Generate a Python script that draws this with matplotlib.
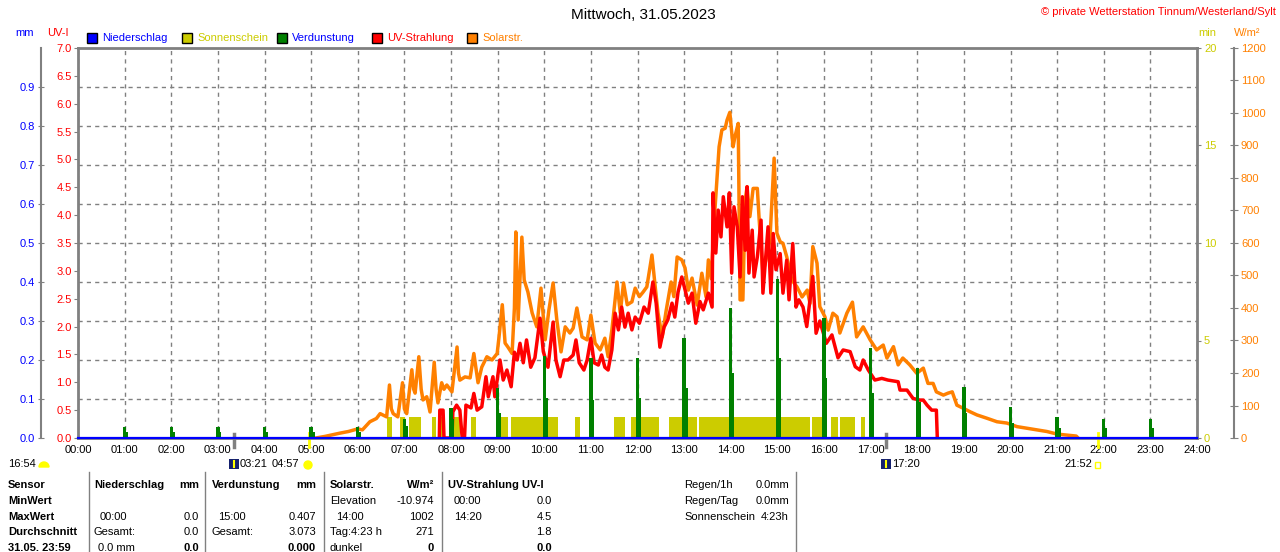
import matplotlib.pyplot as plt
from matplotlib.patches import Rectangle, Wedge, Circle
from matplotlib.lines import Line2D
from matplotlib.ticker import FixedLocator
from matplotlib.transforms import IdentityTransform

plt.rcParams['font.family'] = ['Liberation Sans', 'DejaVu Sans']
plt.rcParams['font.size'] = 8

# ---- data (time in hours) ----
solar_t = [5.10, 5.30, 5.62, 5.80, 6.00, 6.10, 6.26, 6.40, 6.48, 6.62, 6.68, 6.72, 6.76, 6.86,
           6.96, 7.00, 7.05, 7.16, 7.20, 7.23, 7.31, 7.36, 7.40, 7.48, 7.55, 7.64, 7.68, 7.72,
           7.80, 7.85, 7.91, 8.02, 8.13, 8.16, 8.19, 8.30, 8.41, 8.49, 8.58, 8.66, 8.77, 8.88,
           8.99, 9.03, 9.10, 9.16, 9.22, 9.31, 9.36, 9.39, 9.44, 9.52, 9.57, 9.65, 9.74, 9.84,
           9.93, 10.02, 10.10, 10.19, 10.27, 10.36, 10.45, 10.55, 10.62, 10.70, 10.81, 10.92,
           11.00, 11.09, 11.20, 11.30, 11.37, 11.45, 11.56, 11.63, 11.70, 11.78, 11.88, 11.95,
           12.04, 12.12, 12.20, 12.31, 12.38, 12.44, 12.53, 12.61, 12.72, 12.78, 12.85, 12.95,
           13.02, 13.09, 13.17, 13.28, 13.38, 13.47, 13.52, 13.58, 13.66, 13.75, 13.81, 13.88,
           13.92, 13.98, 14.02, 14.05, 14.09, 14.16, 14.20, 14.26, 14.31, 14.35, 14.41, 14.48,
           14.57, 14.61, 14.69, 14.77, 14.84, 14.93, 14.99, 15.06, 15.12, 15.20, 15.31, 15.42,
           15.53, 15.64, 15.70, 15.76, 15.85, 15.91, 16.02, 16.09, 16.19, 16.28, 16.34, 16.49,
           16.61, 16.70, 16.84, 16.99, 17.13, 17.27, 17.35, 17.49, 17.59, 17.69, 17.84, 17.99,
           18.13, 18.23, 18.34, 18.41, 18.56, 18.66, 18.75, 18.85, 18.98, 19.13, 19.28, 19.49,
           19.71, 19.92, 20.14, 20.35, 20.57, 20.78, 21.00, 21.21, 21.41, 21.45]
solar_w = [0, 5, 15, 20, 28, 25, 50, 60, 75, 65, 163, 90, 75, 65,
           170, 90, 75, 210, 150, 138, 250, 150, 117, 127, 80, 233, 150, 108,
           170, 150, 163, 142, 280, 200, 178, 188, 185, 260, 170, 218, 250, 240,
           260, 311, 410, 292, 280, 260, 400, 634, 363, 618, 486, 449, 385, 342,
           461, 302, 394, 477, 363, 265, 342, 323, 338, 400, 311, 302,
           378, 292, 271, 307, 250, 332, 480, 385, 477, 410, 419, 461,
           435, 449, 465, 563, 465, 385, 311, 388, 480, 435, 557, 548,
           523, 455, 492, 409, 507, 434, 548, 490, 701, 896, 948, 953,
           978, 1002, 942, 896, 927, 968, 425, 425, 733, 773, 681, 768,
           768, 671, 507, 558, 609, 861, 630, 604, 599, 558, 486, 465,
           434, 455, 414, 589, 538, 404, 373, 332, 384, 373, 323, 384,
           418, 311, 342, 302, 271, 286, 246, 281, 225, 246, 225, 199,
           215, 168, 168, 142, 132, 138, 142, 101, 92, 81, 71, 61,
           50, 46, 35, 30, 25, 20, 12, 9, 6, 0]

uv_t = [7.75, 7.76, 7.83, 7.85, 8.02, 8.04, 8.12, 8.19, 8.24, 8.29, 8.32, 8.43, 8.49, 8.56,
        8.66, 8.75, 8.80, 8.90, 8.94, 9.05, 9.12, 9.20, 9.29, 9.36, 9.42, 9.48, 9.55, 9.62,
        9.71, 9.80, 9.91, 9.98, 10.08, 10.19, 10.25, 10.34, 10.42, 10.51, 10.62, 10.68, 10.75,
        10.85, 10.92, 11.00, 11.07, 11.16, 11.23, 11.30, 11.37, 11.45, 11.52, 11.59, 11.66,
        11.73, 11.80, 11.88, 11.95, 12.04, 12.14, 12.23, 12.33, 12.40, 12.48, 12.57, 12.65,
        12.74, 12.80, 12.87, 12.95, 13.02, 13.09, 13.17, 13.25, 13.34, 13.41, 13.52, 13.60,
        13.62, 13.68, 13.73, 13.79, 13.84, 13.92, 13.97, 14.02, 14.07, 14.14, 14.20, 14.25,
        14.31, 14.35, 14.39, 14.46, 14.50, 14.57, 14.65, 14.69, 14.76, 14.80, 14.86, 14.91,
        14.97, 15.06, 15.12, 15.20, 15.25, 15.33, 15.40, 15.46, 15.55, 15.63, 15.70, 15.76,
        15.83, 15.91, 15.98, 16.05, 16.17, 16.30, 16.41, 16.56, 16.67, 16.77, 16.84, 16.95,
        17.09, 17.24, 17.37, 17.59, 17.63, 17.78, 17.91, 18.06, 18.13, 18.21, 18.31, 18.41,
        18.43]
uv_i = [0.0, 0.5, 0.5, 0.0, 0.0, 0.47, 0.59, 0.5, 0.0, 0.0, 0.59, 0.54, 0.8, 0.5,
        0.56, 1.1, 0.74, 1.1, 0.74, 1.4, 1.04, 1.22, 0.92, 1.54, 1.4, 1.7, 1.35, 1.76,
        1.27, 1.44, 2.15, 1.55, 1.27, 2.08, 1.4, 1.1, 1.4, 1.4, 1.49, 1.76, 1.35,
        1.22, 1.4, 1.79, 1.35, 1.31, 1.49, 1.27, 1.22, 1.58, 2.24, 1.94, 2.35,
        1.99, 2.24, 1.94, 2.17, 2.06, 2.35, 2.24, 2.8, 2.42, 1.63, 1.99, 2.12,
        2.42, 2.17, 2.62, 2.89, 2.66, 2.42, 2.6, 2.06, 2.45, 2.3, 2.6, 2.35,
        4.4, 3.32, 4.09, 3.61, 4.33, 3.79, 4.4, 2.96, 4.15, 3.79, 2.89, 4.33,
        3.37, 4.51, 2.96, 3.73, 2.89, 3.25, 3.91, 2.6, 3.37, 3.79, 2.6, 3.67,
        3.02, 3.31, 2.6, 3.19, 2.48, 3.49, 2.35, 2.48, 2.35, 2.0, 2.48, 2.9,
        1.88, 2.1, 1.9, 1.7, 1.85, 1.44, 1.58, 1.55, 1.28, 1.22, 1.4, 1.22,
        1.04, 1.07, 1.04, 1.01, 0.86, 0.86, 0.71, 0.68, 0.68, 0.59, 0.5, 0.5,
        0.0]

verd_hour = [1, 2, 3, 4, 5, 6, 7, 8, 9, 10, 11, 12, 13, 14, 15, 16, 17, 18, 19, 20, 21, 22, 23]
verd_peak = [0.028, 0.028, 0.028, 0.028, 0.028, 0.028, 0.05, 0.077, 0.128, 0.21, 0.205, 0.205,
             0.256, 0.333, 0.407, 0.307, 0.23, 0.18, 0.13, 0.08, 0.053, 0.05, 0.05]
verd_step = [0.015, 0.015, 0.015, 0.015, 0.015, 0.015, 0.03, 0.05, 0.064, 0.103, 0.097, 0.103,
             0.128, 0.167, 0.205, 0.154, 0.115, 0.092, 0.064, 0.038, 0.026, 0.025, 0.025]

sun_start = [6.62, 6.91, 7.10, 7.60, 7.76, 8.05, 8.43, 9.04, 9.29, 10.66, 11.50, 11.85, 12.05,
             12.68, 13.32, 15.74, 16.15, 16.34, 16.79]
sun_end = [6.74, 7.02, 7.36, 7.68, 7.87, 8.19, 8.54, 9.23, 10.29, 10.77, 11.73, 11.98, 12.46,
           13.27, 15.71, 15.95, 16.29, 16.66, 16.88]
sun_min = [1.08, 1.08, 1.08, 1.08, 1.08, 1.08, 1.08, 1.08, 1.08, 1.08, 1.08, 1.08, 1.08,
           1.08, 1.08, 1.08, 1.08, 1.08, 1.08]

rain_t = [0, 24]
rain_mm = [0.0, 0.0]

twilight_t = [3.35, 17.33]   # 03:21 / 17:20
sunrise_t = [4.95, 21.87]    # 04:57 / 21:52

hours = list(range(25))
hour_labels = ['%02d:00' % h for h in hours]

W, H = 1280, 552
GRAY = '#808080'
YEL = '#cccc00'


def put(x, y, s, **kw):
    fig.text(x / W, 1 - y / H, s, va='center', **kw)


def pix(x, y):
    return (x, H - y)


fig = plt.figure(figsize=(12.8, 5.52), dpi=100)
ax = fig.add_axes([78 / W, 1 - 438 / H, 1119 / W, 390 / H])
ax_w = ax.twinx()
ax_uv = ax.twinx()
ax_mm = ax.twinx()
for i, a in enumerate([ax, ax_w, ax_uv, ax_mm]):
    a.set_zorder(i + 1)
ax.set_xlim(0, 24)

# sunshine (min) + grid on base axes
ax.bar(sun_start, sun_min, width=[e - s for s, e in zip(sun_start, sun_end)],
       align='edge', color=YEL, linewidth=0)
ax.set_ylim(0, 20)
ax.yaxis.tick_right()
ax.set_yticks([0, 5, 10, 15, 20])
ax.yaxis.set_minor_locator(FixedLocator([2, 4, 6, 8, 10, 12, 14, 16, 18]))
ax.yaxis.remove_overlapping_locs = False
ax.set_xticks(hours)
ax.set_xticklabels(hour_labels)
ax.set_axisbelow(True)
ax.grid(axis='x', which='major', linestyle=(0, (3, 3)), color=GRAY, linewidth=1)
ax.grid(axis='y', which='minor', linestyle=(0, (3, 3)), color=GRAY, linewidth=1)
ax.tick_params(axis='x', length=0, pad=5, labelsize=8)
ax.tick_params(axis='y', which='major', right=True, left=False, labelright=True,
               labelleft=False, length=3, color=GRAY, labelcolor=YEL, pad=2, labelsize=8)
ax.tick_params(axis='y', which='minor', length=0)
for s in ax.spines.values():
    s.set_color(GRAY)
    s.set_linewidth(2)

# solar radiation
ax_w.plot(solar_t, solar_w, color='#ff8000', linewidth=2.5)
ax_w.set_ylim(0, 1200)
ax_w.set_yticks(range(0, 1201, 100))
ax_w.spines['right'].set_position(('axes', 1 + 37 / 1119))
for k in ['left', 'top', 'bottom']:
    ax_w.spines[k].set_visible(False)
ax_w.spines['right'].set_color(GRAY)
ax_w.spines['right'].set_linewidth(1.5)
ax_w.tick_params(axis='y', direction='inout', length=6, color=GRAY, labelcolor='#ff8000',
                 pad=2, labelsize=8)

# UV index
ax_uv.plot(uv_t, uv_i, color='#ff0000', linewidth=2.5)
ax_uv.set_ylim(0, 7)
ax_uv.yaxis.tick_left()
ax_uv.set_yticks([x * 0.5 for x in range(15)])
ax_uv.set_yticklabels(['%.1f' % (x * 0.5) for x in range(15)])
for s in ax_uv.spines.values():
    s.set_visible(False)
ax_uv.tick_params(axis='y', length=3, color=GRAY, labelcolor='#ff0000', pad=1.5, labelsize=8)

# evaporation + precipitation (mm)
ax_mm.bar(verd_hour, verd_peak, width=0.07, color='#008000', linewidth=0)
ax_mm.bar([h + 0.05 for h in verd_hour], verd_step, width=0.05, color='#008000', linewidth=0)
ax_mm.plot(rain_t, rain_mm, color='#0000ff', linewidth=1.6, clip_on=False)
ax_mm.set_ylim(0, 1)
ax_mm.yaxis.tick_left()
ax_mm.set_yticks([x / 10 for x in range(10)])
ax_mm.set_yticklabels(['%.1f' % (x / 10) for x in range(10)])
for s in ax_mm.spines.values():
    s.set_visible(False)
ax_mm.spines['left'].set_visible(True)
ax_mm.spines['left'].set_position(('axes', -37 / 1119))
ax_mm.spines['left'].set_color(GRAY)
ax_mm.spines['left'].set_linewidth(1.5)
ax_mm.tick_params(axis='y', direction='inout', length=5, color=GRAY, labelcolor='#0000ff',
                  pad=2, labelsize=8)

# twilight / sunrise markers below the axis
tr = ax.get_xaxis_transform()
for t in twilight_t:
    ax.plot([t, t], [0.01, -0.023], color=GRAY, linewidth=2.5, transform=tr, clip_on=False)
for t in sunrise_t:
    ax.plot([t, t], [0.013, -0.023], color='#ffff00', linewidth=2, transform=tr, clip_on=False)

# titles and unit labels
put(643, 15, 'Mittwoch, 31.05.2023', ha='center', fontsize=11)
put(1276, 12, '© private Wetterstation Tinnum/Westerland/Sylt', ha='right', color='#ff0000')
put(15, 33, 'mm', color='#0000ff')
put(47, 33, 'UV-I', color='#ff0000')
put(1198, 33, 'min', color=YEL)
put(1234, 33, 'W/m²', color='#ff8000')

# legend
idt = IdentityTransform()
legend = [(87, '#0000ff', 'Niederschlag', '#0000ff'), (182, YEL, 'Sonnenschein', YEL),
          (277, '#008000', 'Verdunstung', '#0000ff'), (372, '#ff0000', 'UV-Strahlung', '#ff0000'),
          (467, '#ff8000', 'Solarstr.', '#ff8000')]
for x0, c, name, tc in legend:
    fig.add_artist(Rectangle(pix(x0, 43), 10, 10, facecolor=c, edgecolor='black',
                             linewidth=1, transform=idt))
    put(x0 + 15, 38, name, color=tc)

# sun / moon row under the time axis
put(8, 464, '16:54')
fig.add_artist(Wedge(pix(44, 467), 5, 0, 180, color='#ffff00', transform=idt))
for x0 in [229, 881]:
    fig.add_artist(Rectangle(pix(x0, 469), 10, 10, facecolor='#14206e', transform=idt))
    fig.add_artist(Line2D([x0 + 5, x0 + 5], [H - 467, H - 461], color='#ffff00',
                          linewidth=1.5, transform=idt))
put(240, 464, '03:21')
put(272, 464, '04:57')
fig.add_artist(Circle(pix(308, 465), 4, color='#ffff00', transform=idt))
put(892, 464, '17:20')
put(1064, 464, '21:52')
fig.add_artist(Rectangle(pix(1095, 468), 5, 6, facecolor='none', edgecolor='#ffff00',
                         linewidth=1, transform=idt))

# statistics table
for x0 in [88.5, 205, 323.5, 442, 795.5]:
    fig.add_artist(Line2D([x0, x0], [H - 472, 0], color=GRAY, linewidth=1, transform=idt))

rows = [485, 501, 517, 532, 548]
for y, s in zip(rows, ['Sensor', 'MinWert', 'MaxWert', 'Durchschnitt', '31.05. 23:59']):
    put(8, y, s, fontweight='bold')

put(94, rows[0], 'Niederschlag', fontweight='bold')
put(199, rows[0], 'mm', ha='right', fontweight='bold')
put(100, rows[2], '00:00')
put(199, rows[2], '0.0', ha='right')
put(94, rows[3], 'Gesamt:')
put(199, rows[3], '0.0', ha='right')
put(98, rows[4], '0.0 mm')
put(199, rows[4], '0.0', ha='right', fontweight='bold')

put(212, rows[0], 'Verdunstung', fontweight='bold')
put(316, rows[0], 'mm', ha='right', fontweight='bold')
put(218, rows[2], '15:00')
put(316, rows[2], '0.407', ha='right')
put(212, rows[3], 'Gesamt:')
put(316, rows[3], '3.073', ha='right')
put(316, rows[4], '0.000', ha='right', fontweight='bold')

put(330, rows[0], 'Solarstr.', fontweight='bold')
put(434, rows[0], 'W/m²', ha='right', fontweight='bold')
put(330, rows[1], 'Elevation')
put(434, rows[1], '-10.974', ha='right')
put(336, rows[2], '14:00')
put(434, rows[2], '1002', ha='right')
put(330, rows[3], 'Tag:4:23 h')
put(434, rows[3], '271', ha='right')
put(330, rows[4], 'dunkel')
put(434, rows[4], '0', ha='right', fontweight='bold')

put(448, rows[0], 'UV-Strahlung UV-I', fontweight='bold')
put(454, rows[1], '00:00')
put(552, rows[1], '0.0', ha='right')
put(454, rows[2], '14:20')
put(552, rows[2], '4.5', ha='right')
put(552, rows[3], '1.8', ha='right')
put(552, rows[4], '0.0', ha='right', fontweight='bold')

put(684, rows[0], 'Regen/1h')
put(789, rows[0], '0.0mm', ha='right')
put(684, rows[1], 'Regen/Tag')
put(789, rows[1], '0.0mm', ha='right')
put(684, rows[2], 'Sonnenschein')
put(789, rows[2], '4:23h', ha='right')

fig.savefig('out.png', dpi=100)
